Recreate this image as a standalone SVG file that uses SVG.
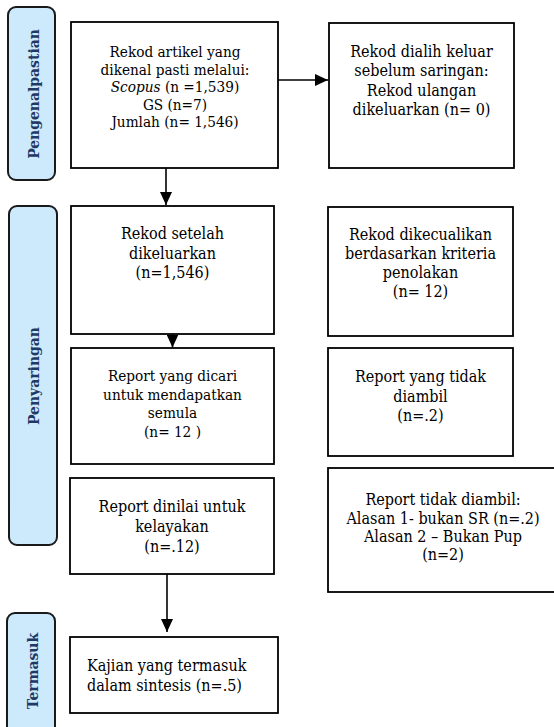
<svg xmlns="http://www.w3.org/2000/svg" width="554" height="727" viewBox="0 0 554 727">
<style>
text{font-family:"DejaVu Serif Condensed","DejaVu Serif",serif;font-stretch:condensed}
.box{fill:#fff;stroke:#000;stroke-width:1.8}
.lab{fill:#cdeafc;stroke:#1a1a1a;stroke-width:2}
.t{font-size:16px;fill:#000;text-anchor:middle}
.s{font-size:15.2px}
.l{text-anchor:start}
.side{font-size:15.5px;font-weight:bold;fill:#1f3864;text-anchor:middle}
.c{stroke:#000;stroke-width:1.6;fill:none}
</style>
<defs>
<marker id="ah" markerUnits="userSpaceOnUse" markerWidth="13" markerHeight="12" refX="13" refY="6" orient="auto">
<path d="M0,0 L13,6 L0,12 z" fill="#000"/>
</marker>
</defs>
<rect width="554" height="727" fill="#fff"/>
<g id="lab-pengenalpastian">
<rect class="lab" x="8" y="7" width="47" height="173" rx="8"/>
<text class="side" transform="translate(39,94) rotate(-90)">Pengenalpastian</text>
</g>
<g id="lab-penyaringan">
<rect class="lab" x="9" y="206" width="48" height="339" rx="8"/>
<text class="side" transform="translate(39,376) rotate(-90)">Penyaringan</text>
</g>
<g id="lab-termasuk">
<rect class="lab" x="7" y="613" width="48" height="125" rx="8"/>
<text class="side" transform="translate(38,671) rotate(-90)">Termasuk</text>
</g>
<g id="n1">
<rect class="box" x="71" y="22" width="207" height="146"/>
<text class="t s" x="175" y="57">Rekod artikel yang</text>
<text class="t s" x="175" y="75">dikenal pasti melalui:</text>
<text class="t s" x="175" y="92"><tspan font-style="italic">Scopus</tspan> (n =1,539)</text>
<text class="t s" x="175" y="109.5">GS (n=7)</text>
<text class="t s" x="175" y="127">Jumlah (n= 1,546)</text>
</g>
<g id="n2">
<rect class="box" x="329" y="23" width="185" height="145"/>
<text class="t" x="421.5" y="57">Rekod dialih keluar</text>
<text class="t" x="421.5" y="76">sebelum saringan:</text>
<text class="t" x="421.5" y="96">Rekod ulangan</text>
<text class="t" x="421.5" y="115">dikeluarkan (n= 0)</text>
</g>
<g id="n3">
<rect class="box" x="71" y="206" width="203" height="128"/>
<text class="t" x="172.5" y="239">Rekod setelah</text>
<text class="t" x="172.5" y="259">dikeluarkan</text>
<text class="t" x="172.5" y="278">(n=1,546)</text>
</g>
<g id="n4">
<rect class="box" x="71" y="348" width="203" height="116"/>
<text class="t s" x="172.5" y="381">Report yang dicari</text>
<text class="t s" x="172.5" y="399.5">untuk mendapatkan</text>
<text class="t s" x="172.5" y="418">semula</text>
<text class="t s" x="172.5" y="437">(n= 12 )</text>
</g>
<g id="n5">
<rect class="box" x="328" y="207" width="185" height="129"/>
<text class="t" x="420.5" y="240">Rekod dikecualikan</text>
<text class="t" x="420.5" y="259">berdasarkan kriteria</text>
<text class="t" x="420.5" y="278">penolakan</text>
<text class="t" x="420.5" y="297">(n= 12)</text>
</g>
<g id="n6">
<rect class="box" x="328" y="348" width="185" height="108"/>
<text class="t" x="420.5" y="382">Report yang tidak</text>
<text class="t" x="420.5" y="402">diambil</text>
<text class="t" x="420.5" y="421">(n=.2)</text>
</g>
<g id="n7">
<rect class="box" x="328" y="468" width="232" height="124"/>
<text class="t" x="443" y="505">Report tidak diambil:</text>
<text class="t" x="443" y="523.5">Alasan 1- bukan SR (n=.2)</text>
<text class="t" x="443" y="542">Alasan 2 – Bukan Pup</text>
<text class="t" x="443" y="560">(n=2)</text>
</g>
<g id="n8">
<rect class="box" x="70" y="478" width="204" height="96"/>
<text class="t" x="172" y="512">Report dinilai untuk</text>
<text class="t" x="172" y="532">kelayakan</text>
<text class="t" x="172" y="552">(n=.12)</text>
</g>
<g id="n9">
<rect class="box" x="70" y="637" width="208" height="76"/>
<text class="t l" x="87" y="671">Kajian yang termasuk</text>
<text class="t l" x="87" y="691">dalam sintesis (n=.5)</text>
</g>
<g id="connectors">
<line class="c" x1="278" y1="80" x2="328" y2="80" marker-end="url(#ah)"/>
<line class="c" x1="166" y1="168" x2="166" y2="205" marker-end="url(#ah)"/>
<line class="c" x1="172.5" y1="334" x2="172.5" y2="347.5" marker-end="url(#ah)"/>
<line class="c" x1="167" y1="574" x2="167" y2="632" marker-end="url(#ah)"/>
</g>
</svg>
